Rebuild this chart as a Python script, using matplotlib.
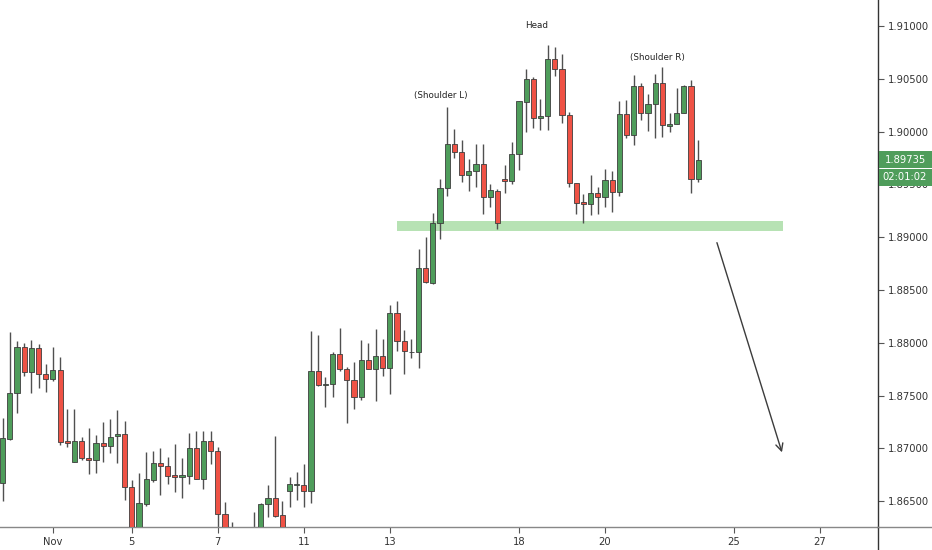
import matplotlib
matplotlib.use("Agg")
import matplotlib.pyplot as plt
from matplotlib.patches import Rectangle

# 4H candles (open, high, low, close)
opens = [1.86669, 1.87089, 1.87521, 1.87963, 1.87726, 1.87948, 1.87704, 1.87654, 1.87742, 1.87070,
         1.86874, 1.87073, 1.86906, 1.86890, 1.87048, 1.87025, 1.87117, 1.87133, 1.86637, 1.86208,
         1.86473, 1.86700, 1.86864, 1.86833, 1.86745, 1.86732, 1.86741, 1.87006, 1.86710, 1.87070,
         1.86975, 1.86376, 1.86180, 1.86085, 1.86038, 1.86085, 1.86132, 1.86473, 1.86527, 1.86369,
         1.86599, 1.86653, 1.86656, 1.86599, 1.87736, 1.87603, 1.87610, 1.87891, 1.87749, 1.87647,
         1.87484, 1.87837, 1.87749, 1.87875, 1.87758, 1.88285, 1.88017, 1.87915, 1.87910, 1.88711,
         1.88569, 1.89137, 1.89469, 1.89879, 1.89804, 1.89589, 1.89627, 1.89690, 1.89378, 1.89440,
         1.89551, 1.89532, 1.89785, 1.90283, 1.90498, 1.90126, 1.90150, 1.90684, 1.90590, 1.90157,
         1.89510, 1.89330, 1.89314, 1.89415, 1.89383, 1.89541, 1.89431, 1.90164, 1.89968, 1.90432,
         1.90173, 1.90261, 1.90463, 1.90056, 1.90072, 1.90173, 1.90434, 1.89551]
highs = [1.87290, 1.88099, 1.88017, 1.87995, 1.88029, 1.87991, 1.87796, 1.87960, 1.87868, 1.87373,
         1.87370, 1.87110, 1.87190, 1.87127, 1.87253, 1.87275, 1.87363, 1.87259, 1.86700, 1.86770,
         1.86968, 1.86975, 1.87006, 1.86915, 1.87039, 1.86912, 1.87143, 1.87167, 1.87167, 1.87167,
         1.87016, 1.86495, 1.86306, 1.86180, 1.86132, 1.86400, 1.86480, 1.86653, 1.87114, 1.86502,
         1.86726, 1.86773, 1.86852, 1.88111, 1.88074, 1.87673, 1.87913, 1.88137, 1.87773, 1.87815,
         1.88026, 1.87995, 1.88128, 1.88033, 1.88358, 1.88398, 1.88121, 1.88033, 1.88885, 1.88999,
         1.89232, 1.89548, 1.90230, 1.90021, 1.89917, 1.89737, 1.89882, 1.89882, 1.89504, 1.89453,
         1.89683, 1.89904, 1.90290, 1.90590, 1.90520, 1.90309, 1.90820, 1.90798, 1.90735, 1.90188,
         1.89516, 1.89409, 1.89589, 1.89478, 1.89646, 1.89630, 1.90290, 1.90299, 1.90536, 1.90463,
         1.90356, 1.90545, 1.90609, 1.90173, 1.90410, 1.90441, 1.90488, 1.89920]
lows = [1.86502, 1.87079, 1.87332, 1.87688, 1.87524, 1.87575, 1.87531, 1.87638, 1.87032, 1.87016,
        1.86871, 1.86890, 1.86754, 1.86770, 1.86874, 1.86953, 1.86859, 1.86511, 1.86132, 1.86151,
        1.86454, 1.86684, 1.86558, 1.86663, 1.86590, 1.86527, 1.86660, 1.86707, 1.86612, 1.86852,
        1.86208, 1.86085, 1.86038, 1.85943, 1.85943, 1.85990, 1.86085, 1.86353, 1.86350, 1.86132,
        1.86442, 1.86511, 1.86448, 1.86485, 1.87591, 1.87389, 1.87489, 1.87736, 1.87243, 1.87373,
        1.87458, 1.87749, 1.87451, 1.87685, 1.87512, 1.87925, 1.87701, 1.87853, 1.87758, 1.88569,
        1.88556, 1.88980, 1.89393, 1.89747, 1.89525, 1.89440, 1.89472, 1.89219, 1.89289, 1.89075,
        1.89421, 1.89504, 1.89636, 1.89999, 1.90031, 1.90015, 1.90015, 1.90529, 1.90078, 1.89478,
        1.89219, 1.89137, 1.89210, 1.89219, 1.89289, 1.89241, 1.89390, 1.89936, 1.89873, 1.90110,
        1.90008, 1.89936, 1.89946, 1.89999, 1.90072, 1.90173, 1.89415, 1.89520]
closes = [1.87095, 1.87521, 1.87963, 1.87726, 1.87948, 1.87704, 1.87654, 1.87742, 1.87063, 1.87048,
          1.87073, 1.86906, 1.86887, 1.87048, 1.87025, 1.87110, 1.87133, 1.86637, 1.86199, 1.86480,
          1.86707, 1.86864, 1.86833, 1.86741, 1.86732, 1.86745, 1.87006, 1.86710, 1.87070, 1.86975,
          1.86376, 1.86180, 1.86085, 1.86038, 1.86085, 1.86132, 1.86473, 1.86527, 1.86360, 1.86208,
          1.86663, 1.86660, 1.86599, 1.87736, 1.87600, 1.87612, 1.87891, 1.87749, 1.87647, 1.87484,
          1.87837, 1.87749, 1.87875, 1.87758, 1.88285, 1.88017, 1.87922, 1.87910, 1.88711, 1.88575,
          1.89137, 1.89463, 1.89879, 1.89804, 1.89589, 1.89627, 1.89690, 1.89378, 1.89444, 1.89137,
          1.89532, 1.89785, 1.90290, 1.90498, 1.90131, 1.90150, 1.90684, 1.90590, 1.90157, 1.89510,
          1.89326, 1.89314, 1.89415, 1.89383, 1.89541, 1.89431, 1.90164, 1.89968, 1.90432, 1.90173,
          1.90261, 1.90463, 1.90062, 1.90072, 1.90173, 1.90434, 1.89551, 1.89735]

day_ticks = [7, 18, 30, 42, 54, 72, 84, 102, 114]
day_labels = ["Nov", "5", "7", "11", "13", "18", "20", "25", "27"]
price_ticks = [1.865, 1.870, 1.875, 1.880, 1.885, 1.890, 1.895, 1.900, 1.905, 1.910]

# support zone (neckline) and projected move
zone_x = (55.0, 108.8)
zone_y = (1.89058, 1.89153)
arrow_from = (99.5, 1.88973)
arrow_to = (108.8, 1.86937)
last_price = 1.89735
countdown = "02:01:02"

UP = "#4f9d5b"
DOWN = "#ef5245"
EDGE = "#3d3d3d"

fig = plt.figure(figsize=(9.32, 5.5), dpi=100)
ax = fig.add_axes([0, 23 / 550, 878 / 932, 527 / 550])

# candles
for i in range(len(opens)):
    o, h, l, c = opens[i], highs[i], lows[i], closes[i]
    ax.vlines(i, l, h, color="#505050", linewidth=1.0, zorder=2)
    bottom = min(o, c)
    height = max(abs(c - o), 0.00004)
    col = UP if c >= o else DOWN
    ax.add_patch(Rectangle((i - 0.36, bottom), 0.72, height, facecolor=col,
                           edgecolor=EDGE, linewidth=0.6, zorder=3))

# neckline zone
ax.add_patch(Rectangle((zone_x[0], zone_y[0]), zone_x[1] - zone_x[0], zone_y[1] - zone_y[0],
                       facecolor="#b7e2b4", edgecolor="none", zorder=1))

ax.annotate("", xy=arrow_to, xytext=arrow_from,
            arrowprops=dict(arrowstyle="->", color="#3c3c3c", lw=1.0, mutation_scale=13))

# pattern labels
ax.text(61.1, 1.90346, "(Shoulder L)", fontsize=6.3, ha="center", va="center", color="#222222")
ax.text(74.5, 1.91009, "Head", fontsize=6.3, ha="center", va="center", color="#222222")
ax.text(91.3, 1.90706, "(Shoulder R)", fontsize=6.3, ha="center", va="center", color="#222222")

ax.set_xlim(-0.38, 122.08)
ax.set_ylim(1.86255, 1.91246)

ax.set_xticks(day_ticks)
ax.set_xticklabels(day_labels)
ax.set_yticks(price_ticks)
ax.set_yticklabels(["%.5f" % p for p in price_ticks])
ax.yaxis.tick_right()
ax.tick_params(axis="y", direction="out", length=4, width=0.8, color="#555555",
               labelsize=7.2, labelcolor="#333333", pad=3)
ax.tick_params(axis="x", direction="out", length=4, width=0.8, color="#555555",
               labelsize=7.2, labelcolor="#333333", pad=3)

for s in ["top", "left"]:
    ax.spines[s].set_visible(False)
ax.spines["right"].set_color("#333333")
ax.spines["right"].set_linewidth(1.0)
ax.spines["bottom"].set_color("#888888")
ax.spines["bottom"].set_linewidth(1.0)

# axis line continues below the x axis and across to the price scale
fig.add_artist(plt.Line2D([878 / 932, 878 / 932], [0, 23 / 550], color="#333333", linewidth=1.0))
fig.add_artist(plt.Line2D([878 / 932, 1], [23 / 550, 23 / 550], color="#888888", linewidth=1.0))

# last price and countdown labels on the price scale (boxes fill the scale width)
box_h = 0.00160
scale_w = 932 / 878 - 1.0
ytr = ax.get_yaxis_transform()
ax.add_patch(Rectangle((1.001, last_price - box_h / 2), scale_w, box_h, transform=ytr,
                       facecolor=UP, edgecolor="none", zorder=4, clip_on=False))
ax.add_patch(Rectangle((1.001, last_price - box_h / 2 - 0.00010 - box_h), scale_w, box_h,
                       transform=ytr, facecolor=UP, edgecolor="none", zorder=4, clip_on=False))
ax.text(1.0 + scale_w / 2, last_price, "%.5f" % last_price, transform=ytr,
        fontsize=7.2, color="white", ha="center", va="center", zorder=5, clip_on=False)
ax.text(1.0 + scale_w / 2, last_price - box_h - 0.00010, countdown, transform=ytr,
        fontsize=7.2, color="white", ha="center", va="center", zorder=5, clip_on=False)

fig.savefig("out.png", dpi=100)
